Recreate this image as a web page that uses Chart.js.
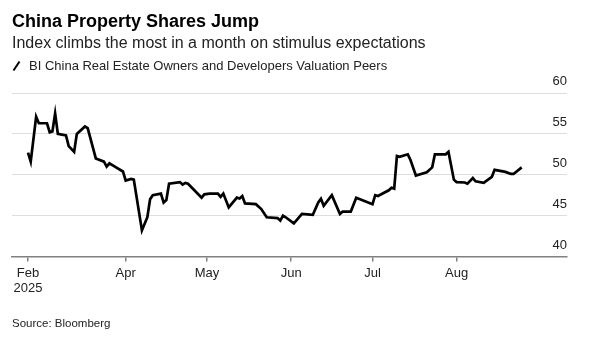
<!DOCTYPE html>
<html>
<head>
<meta charset="utf-8">
<title>China Property Shares Jump</title>
<script src="https://cdn.jsdelivr.net/npm/chart.js@4.4.1/dist/chart.umd.min.js"></script>
<style>
  html, body { margin: 0; padding: 0; background: #fff; }
  body { width: 596px; height: 343px; position: relative; overflow: hidden;
         font-family: "Liberation Sans", Arial, Helvetica, sans-serif; color: #111; }
  #chartBox { position: absolute; left: 0; top: 0; width: 596px; height: 343px; }
  .txt { position: absolute; left: 12px; white-space: nowrap; line-height: 1; }
  #title { top: 11.5px; font-size: 18px; font-weight: bold; color: #000; }
  #subtitle { top: 34.5px; font-size: 16px; color: #222; }
  #legend { top: 59px; font-size: 13px; color: #222; }
  #legend svg { position: absolute; left: 0; top: 1px; }
  #legend span { margin-left: 17px; }
  #source { top: 318px; font-size: 11.5px; color: #222; }
</style>
</head>
<body>
<div id="chartBox"><canvas id="propChart"></canvas></div>
<div class="txt" id="title">China Property Shares Jump</div>
<div class="txt" id="subtitle">Index climbs the most in a month on stimulus expectations</div>
<div class="txt" id="legend"><svg width="10" height="12"><line x1="1.5" y1="10.5" x2="7.5" y2="1.5" stroke="#000" stroke-width="2"/></svg><span>BI China Real Estate Owners and Developers Valuation Peers</span></div>
<div class="txt" id="source">Source: Bloomberg</div>

<script>
// 指数の終値(2025年)
const dates = [
  '02-24','02-25','02-27','02-28','03-03','03-04','03-05','03-06','03-07','03-10',
  '03-11','03-13','03-14','03-17','03-18','03-21','03-24','03-25','03-26','03-28',
  '03-31','04-01','04-03','04-04','04-07','04-09','04-10','04-11','04-14','04-15',
  '04-16','04-17','04-21','04-22','04-23','04-24','04-29','04-30','05-02','05-05',
  '05-06','05-07','05-09','05-12','05-13','05-14','05-15','05-19','05-21','05-23',
  '05-27','05-28','05-29','05-30','06-02','06-05','06-09','06-11','06-12','06-13',
  '06-16','06-19','06-20','06-23','06-25','07-01','07-02','07-03','07-07','07-08',
  '07-09','07-10','07-11','07-14','07-15','07-17','07-21','07-23','07-24','07-28',
  '07-29','07-31','08-01','08-04','08-05','08-07','08-08','08-11','08-14','08-15',
  '08-19','08-21','08-22','08-25'
];
const values = [
  52.7, 51.6, 57.1, 56.3, 56.3, 55.2, 55.3, 57.5, 55.0, 54.8,
  53.5, 52.8, 55.0, 55.9, 55.7, 52.0, 51.6, 51.0, 51.4, 51.0,
  50.4, 49.3, 49.5, 49.4, 43.2, 44.8, 47.0, 47.5, 47.7, 46.6,
  46.9, 48.9, 49.1, 48.8, 49.0, 48.9, 47.2, 47.6, 47.7, 47.7,
  47.3, 47.7, 46.0, 47.2, 47.1, 47.4, 46.5, 46.4, 45.8, 44.8,
  44.7, 44.4, 45.0, 44.8, 44.05, 45.2, 45.1, 46.6, 47.05, 46.2,
  47.5, 45.2, 45.5, 45.5, 47.2, 46.4, 47.5, 47.4, 48.1, 48.4,
  48.3, 52.3, 52.2, 52.5, 51.8, 49.9, 50.3, 50.9, 52.5, 52.5,
  52.8, 49.4, 49.1, 49.05, 48.9, 49.6, 49.2, 49.0, 49.75, 50.6,
  50.35, 50.1, 50.1, 50.9
];

// x軸の目盛り(月初)とラベル
const tickDates = ['02-24', '04-01', '05-01', '06-01', '07-01', '08-01'];
const tickLabels = [['Feb', '2025'], 'Apr', 'May', 'Jun', 'Jul', 'Aug'];
const yTicks = [40, 45, 50, 55, 60];

function dayOfYear(md) {//'MM-DD' -> 2025年の通し日
    const [m, d] = md.split('-').map(Number);
    return (Date.UTC(2025, m - 1, d) - Date.UTC(2025, 0, 0)) / 86400000;
}

const points = dates.map((d, i) => ({ x: dayOfYear(d), y: values[i] }));
const tickDays = tickDates.map(dayOfYear);

Chart.defaults.font.family = '"Liberation Sans", Arial, sans-serif';
Chart.defaults.color = '#222';

const ctx = document.getElementById('propChart');
const propChart = new Chart(ctx, {
    type: 'line',
    data: {
        datasets: [{
            label: 'BI China Real Estate Owners and Developers Valuation Peers',
            data: points,
            borderColor: '#000',
            borderWidth: 2.7,
            pointRadius: 0,
            tension: 0
        }]
    },
    options: {
        responsive: true,
        maintainAspectRatio: false,
        animation: false,
        layout: { padding: { top: 93, right: 29, bottom: 42.3, left: 12 } },
        plugins: {
            legend: { display: false },
            tooltip: { enabled: false }
        },
        scales: {
            x: {
                type: 'linear',
                min: 49.1,
                max: 253.7,
                afterBuildTicks: (scale) => {
                    scale.ticks = tickDays.map(v => ({ value: v }));
                },
                ticks: {
                    autoSkip: false,
                    maxRotation: 0,
                    padding: 4,
                    font: { size: 13 },
                    color: '#222',
                    callback: (value, index) => tickLabels[index]
                },
                grid: {
                    drawOnChartArea: false,
                    drawTicks: true,
                    tickLength: 5,
                    color: '#808080',
                    lineWidth: 1.5
                },
                border: { color: '#808080', width: 1.5 }
            },
            y: {
                position: 'right',
                min: 40,
                max: 60,
                afterBuildTicks: (scale) => {
                    scale.ticks = yTicks.map(v => ({ value: v }));
                },
                ticks: {
                    mirror: true,
                    padding: 0,
                    labelOffset: -11.5,
                    font: { size: 13 },
                    color: '#222'
                },
                grid: { color: '#dddddd', lineWidth: 1, drawTicks: false },
                border: { display: false }
            }
        }
    }
});
</script>
</body>
</html>
